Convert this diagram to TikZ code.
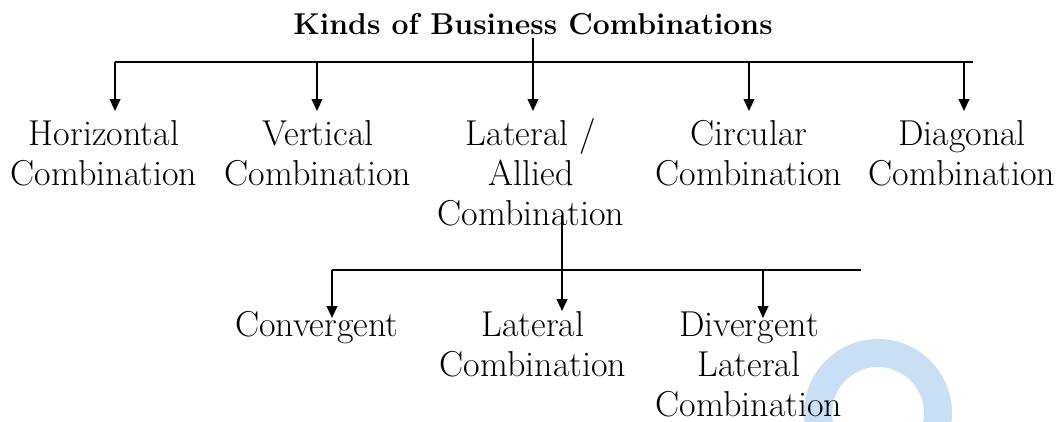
\documentclass[tikz,border=0pt]{standalone}
\usetikzlibrary{arrows.meta}
\definecolor{wm}{RGB}{200,223,245}
\begin{document}
\begin{tikzpicture}[x=0.75pt,y=-0.75pt,
  lbl/.style={font=\fontsize{27}{30}\selectfont, align=center, inner sep=0pt, anchor=base},
  ttl/.style={font=\fontsize{22.6}{27}\selectfont\bfseries, inner sep=0pt, anchor=base},
  ln/.style={line width=1.5pt},
  arr/.style={line width=1.5pt, -{Triangle[width=8pt,length=9pt]}},
]
\useasboundingbox (0,0) rectangle (1062,421);
\begin{scope}
  \clip (0,0) rectangle (1062,421);
  \draw[line width=21pt, wm] (878,413) circle[radius=45pt];
\end{scope}

% texts (anchored at the baseline of their last line)
\node[ttl] (title) at (533,34) {Kinds of Business Combinations};
\node[lbl] (h) at (104,185) {Horizontal\\Combination};
\node[lbl] (v) at (318,185) {Vertical\\Combination};
\node[lbl] (l) at (531,225) {Lateral /\\Allied\\Combination};
\node[lbl] (c) at (749,185) {Circular\\Combination};
\node[lbl] (d) at (962,185) {Diagonal\\Combination};
\node[lbl] (conv) at (317,336) {Convergent};
\node[lbl] (lat) at (533,376) {Lateral\\Combination};
\node[lbl] (div) at (749,416) {Divergent\\Lateral\\Combination};

% upper bus
\coordinate (bL) at (115,62);
\coordinate (bR) at (973,62);
\coordinate (hT) at (115,111);
\coordinate (vB) at (317,62);
\coordinate (vT) at (317,111);
\coordinate (lT) at (533,111);
\coordinate (cB) at (749,62);
\coordinate (cT) at (749,111);
\coordinate (dB) at (964,62);
\coordinate (dT) at (964,111);
\draw[ln] (bL) -- (bR);
\draw[arr] ([yshift=-3pt]title.base) -- (lT);
\draw[arr] (bL) -- (hT);
\draw[arr] (vB) -- (vT);
\draw[arr] (cB) -- (cT);
\draw[arr] (dB) -- (dT);

% lower bus
\coordinate (lS) at (562,215);
\coordinate (bL2) at (332,270);
\coordinate (bR2) at (861,270);
\coordinate (convT) at (332,318);
\coordinate (latT) at (562,311);
\coordinate (divB) at (763,270);
\coordinate (divT) at (763,318);
\draw[ln] (bL2) -- (bR2);
\draw[arr] (lS) -- (latT);
\draw[arr] (bL2) -- (convT);
\draw[arr] (divB) -- (divT);
\end{tikzpicture}
\end{document}
